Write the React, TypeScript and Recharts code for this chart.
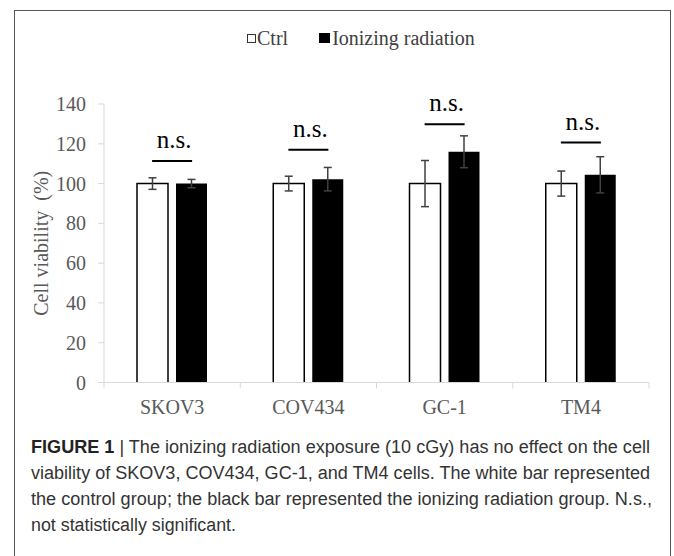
import React from 'react';
import { ComposedChart, Bar, Line, XAxis, YAxis, ErrorBar, Legend } from 'recharts';

const cellLines = ['SKOV3', 'COV434', 'GC-1', 'TM4'];
const ctrlViability = [100, 100, 100, 100];
const ctrlSd = [2.9, 3.7, 11.6, 6.3];
const irViability = [100, 102.2, 116, 104.4];
const irSd = [2.1, 5.9, 8, 9.1];
// height of the "n.s." bracket over each pair
const nsLevel = [111.3, 117, 129.8, 120.6];
const yTicks = [0, 20, 40, 60, 80, 100, 120, 140];

const captionLines = [
    'The ionizing radiation exposure (10 cGy) has no effect on the cell',
    'viability of SKOV3, COV434, GC-1, and TM4 cells. The white bar represented',
    'the control group; the black bar represented the ionizing radiation group. N.s.,',
    'not statistically significant.',
];

const data = cellLines.map((name, i) => ({
    name,
    ctrl: ctrlViability[i],
    ctrlErr: ctrlSd[i],
    ir: irViability[i],
    irErr: irSd[i],
    ns: nsLevel[i],
}));

const serif = '"Liberation Serif", "Times New Roman", serif';
const sans = '"Liberation Sans", Arial, sans-serif';
const axisGray = '#d9d9d9';
const textGray = '#595959';

const CategoryTick = (props: any) => {
    const { x, y, payload, index } = props;
    const axisY = y - 17;
    const half = payload.offset || 0;
    return (
        <g>
            <line x1={x - half} x2={x - half} y1={axisY} y2={axisY + 6} stroke={axisGray} />
            {index === cellLines.length - 1 && (
                <line x1={x + half} x2={x + half} y1={axisY} y2={axisY + 6} stroke={axisGray} />
            )}
            <text x={x} y={y} dy="0.71em" textAnchor="middle" fill={textGray} fontSize={20} fontFamily={serif}>
                {payload.value}
            </text>
        </g>
    );
};

// open-bottom outline, the axis line closes the bar
const OutlineBar = (props: any) => {
    const { x, y, width, height } = props;
    if (!height) return <g />;
    return (
        <g>
            <rect x={x} y={y} width={width} height={height} fill="#fff" />
            <path d={`M${x},${y + height} V${y} H${x + width} V${y + height}`} fill="none" stroke="#000" strokeWidth={1.5} />
        </g>
    );
};

const NsMark = (props: any) => {
    const { cx, cy, index } = props;
    if (cx == null || cy == null) return <g key={index} />;
    return (
        <g key={index}>
            <line x1={cx - 20} x2={cx + 20} y1={cy} y2={cy} stroke="#000" strokeWidth={2} />
            <text x={cx + 2} y={cy - 13} textAnchor="middle" fill="#000" fontSize={25} fontFamily={serif}>
                n.s.
            </text>
        </g>
    );
};

const LegendContent = () => (
    <div style={{ height: 20, display: 'flex', alignItems: 'center', paddingLeft: 247, fontFamily: serif, fontSize: 20, color: '#404040' }}>
        <span style={{ width: 9, height: 9, border: '1.3px solid #333', background: '#fff', marginRight: 1, boxSizing: 'border-box' }} />
        <span>Ctrl</span>
        <span style={{ width: 11, height: 10, background: '#000', marginLeft: 31, marginRight: 2 }} />
        <span>Ionizing radiation</span>
    </div>
);

const YLabel = (props: any) => {
    const { viewBox } = props;
    const x = viewBox.x + 1;
    const y = viewBox.y + viewBox.height / 2;
    return (
        <text x={x} y={y} transform={`rotate(-90, ${x}, ${y})`} textAnchor="middle" dominantBaseline="central"
            fill={textGray} fontSize={20} fontFamily={serif} style={{ whiteSpace: 'pre' }}>
            Cell viability  (%)
        </text>
    );
};

export default function App() {
    return (
        <div style={{ position: 'absolute', left: 0, top: 0, width: 674, height: 556, overflow: 'hidden', background: '#fff' }}>
            <div style={{ position: 'absolute', left: 14, top: 10, width: 657, height: 600, border: '1.5px solid #555', boxSizing: 'border-box' }} />
            <div style={{ position: 'absolute', left: 0, top: 0 }}>
                <ComposedChart width={674} height={440} data={data} margin={{ top: 84, right: 25, bottom: 17.5, left: 40 }} barGap={8}>
                    <Legend verticalAlign="top" content={<LegendContent />} wrapperStyle={{ top: 28, left: 0, width: 674 }} />
                    <XAxis dataKey="name" stroke={axisGray} tickLine={false} tickSize={0} tickMargin={17} height={40} tick={<CategoryTick />} />
                    <YAxis domain={[0, 140]} ticks={yTicks} width={64} stroke={axisGray} tickSize={6} tickMargin={12}
                        tick={{ fill: textGray, fontSize: 20, fontFamily: serif }} label={<YLabel />} />
                    <Bar dataKey="ctrl" name="Ctrl" fill="#fff" barSize={31} shape={OutlineBar} isAnimationActive={false}>
                        <ErrorBar dataKey="ctrlErr" width={4} stroke="#404040" strokeWidth={1.5} direction="y" />
                    </Bar>
                    <Bar dataKey="ir" name="Ionizing radiation" fill="#000" barSize={31} isAnimationActive={false}>
                        <ErrorBar dataKey="irErr" width={4} stroke="#404040" strokeWidth={1.5} direction="y" />
                    </Bar>
                    <Line dataKey="ns" stroke="none" legendType="none" dot={NsMark} activeDot={false} isAnimationActive={false} />
                </ComposedChart>
            </div>
            <svg width={674} height={556} style={{ position: 'absolute', left: 0, top: 0 }}>
                <text x={31} y={453} fontFamily={sans} fontSize={18} fill="#333" textLength={619} lengthAdjust="spacingAndGlyphs">
                    <tspan fontWeight="bold" fill="#222">FIGURE 1</tspan> | {captionLines[0]}
                </text>
                <text x={31} y={479} fontFamily={sans} fontSize={18} fill="#333" textLength={619} lengthAdjust="spacingAndGlyphs">
                    {captionLines[1]}
                </text>
                <text x={31} y={505} fontFamily={sans} fontSize={18} fill="#333" textLength={621} lengthAdjust="spacingAndGlyphs">
                    {captionLines[2]}
                </text>
                <text x={31} y={531} fontFamily={sans} fontSize={18} fill="#333" textLength={205} lengthAdjust="spacingAndGlyphs">
                    {captionLines[3]}
                </text>
            </svg>
        </div>
    );
}
